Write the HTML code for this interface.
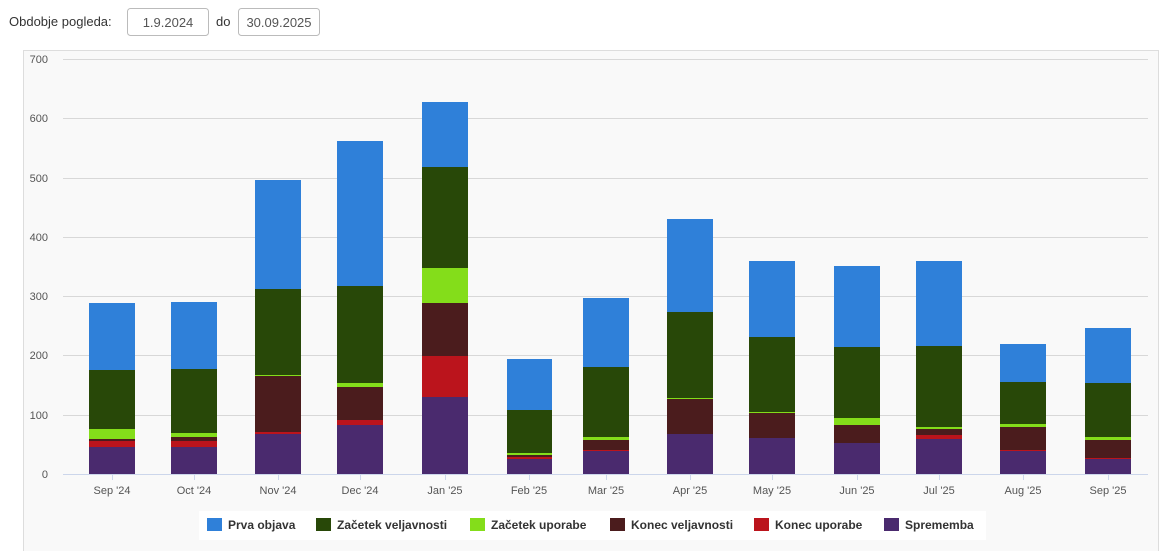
<!DOCTYPE html>
<html><head><meta charset="utf-8"><style>
html,body{margin:0;padding:0;background:#fff;width:1164px;height:551px;overflow:hidden;font-family:"Liberation Sans",sans-serif}
svg{position:absolute;left:0;top:0}
</style></head><body>
<svg width="1164" height="551" xmlns="http://www.w3.org/2000/svg" font-family="Liberation Sans, sans-serif">
<text x="9" y="26" font-size="13" fill="#333">Obdobje pogleda:</text>
<rect x="127.5" y="8.5" width="81" height="27" rx="3" fill="#fff" stroke="#bbb"/>
<text x="168" y="27" font-size="13" fill="#555" text-anchor="middle">1.9.2024</text>
<text x="216" y="26" font-size="13" fill="#333">do</text>
<rect x="238.5" y="8.5" width="81" height="27" rx="3" fill="#fff" stroke="#bbb"/>
<text x="279" y="27" font-size="13" fill="#555" text-anchor="middle">30.09.2025</text>
<rect x="23.5" y="50.5" width="1135" height="505" fill="#f9f9f9" stroke="#ddd"/>
<g stroke="#d8d8d8" stroke-width="1">
<line x1="63" x2="1148" y1="59.5" y2="59.5"/><line x1="63" x2="1148" y1="118.5" y2="118.5"/>
<line x1="63" x2="1148" y1="178.5" y2="178.5"/><line x1="63" x2="1148" y1="237.5" y2="237.5"/>
<line x1="63" x2="1148" y1="296.5" y2="296.5"/><line x1="63" x2="1148" y1="355.5" y2="355.5"/>
<line x1="63" x2="1148" y1="415.5" y2="415.5"/>
</g>
<g font-size="11" fill="#555" text-anchor="end">
<text x="48" y="63">700</text><text x="48" y="122">600</text><text x="48" y="182">500</text>
<text x="48" y="241">400</text><text x="48" y="300">300</text><text x="48" y="359">200</text>
<text x="48" y="419">100</text><text x="48" y="478">0</text>
</g>
<g id="bars">
<!-- Sep24 -->
<rect x="89" y="447" width="46" height="27" fill="#4a2a6e"/><rect x="89" y="441" width="46" height="6" fill="#bb141c"/><rect x="89" y="439" width="46" height="2" fill="#4b1c1d"/><rect x="89" y="429" width="46" height="10" fill="#84dd1a"/><rect x="89" y="370" width="46" height="59" fill="#284808"/><rect x="89" y="303" width="46" height="67" fill="#2f80d9"/>
<!-- Oct -->
<rect x="171" y="447" width="46" height="27" fill="#4a2a6e"/><rect x="171" y="441" width="46" height="6" fill="#bb141c"/><rect x="171" y="437" width="46" height="4" fill="#4b1c1d"/><rect x="171" y="433" width="46" height="4" fill="#84dd1a"/><rect x="171" y="369" width="46" height="64" fill="#284808"/><rect x="171" y="302" width="46" height="67" fill="#2f80d9"/>
<!-- Nov -->
<rect x="255" y="434" width="46" height="40" fill="#4a2a6e"/><rect x="255" y="432" width="46" height="2" fill="#bb141c"/><rect x="255" y="376" width="46" height="56" fill="#4b1c1d"/><rect x="255" y="375" width="46" height="1" fill="#84dd1a"/><rect x="255" y="289" width="46" height="86" fill="#284808"/><rect x="255" y="180" width="46" height="109" fill="#2f80d9"/>
<!-- Dec -->
<rect x="337" y="425" width="46" height="49" fill="#4a2a6e"/><rect x="337" y="420" width="46" height="5" fill="#bb141c"/><rect x="337" y="387" width="46" height="33" fill="#4b1c1d"/><rect x="337" y="383" width="46" height="4" fill="#84dd1a"/><rect x="337" y="286" width="46" height="97" fill="#284808"/><rect x="337" y="141" width="46" height="145" fill="#2f80d9"/>
<!-- Jan -->
<rect x="422" y="397" width="46" height="77" fill="#4a2a6e"/><rect x="422" y="356" width="46" height="41" fill="#bb141c"/><rect x="422" y="303" width="46" height="53" fill="#4b1c1d"/><rect x="422" y="268" width="46" height="35" fill="#84dd1a"/><rect x="422" y="167" width="46" height="101" fill="#284808"/><rect x="422" y="102" width="46" height="65" fill="#2f80d9"/>
<!-- Feb -->
<rect x="507" y="459" width="45" height="15" fill="#4a2a6e"/><rect x="507" y="457" width="45" height="2" fill="#bb141c"/><rect x="507" y="455" width="45" height="2" fill="#4b1c1d"/><rect x="507" y="453" width="45" height="2" fill="#84dd1a"/><rect x="507" y="410" width="45" height="43" fill="#284808"/><rect x="507" y="359" width="45" height="51" fill="#2f80d9"/>
<!-- Mar -->
<rect x="583" y="451" width="46" height="23" fill="#4a2a6e"/><rect x="583" y="450" width="46" height="1" fill="#bb141c"/><rect x="583" y="440" width="46" height="10" fill="#4b1c1d"/><rect x="583" y="437" width="46" height="3" fill="#84dd1a"/><rect x="583" y="367" width="46" height="70" fill="#284808"/><rect x="583" y="298" width="46" height="69" fill="#2f80d9"/>
<!-- Apr -->
<rect x="667" y="434" width="46" height="40" fill="#4a2a6e"/><rect x="667" y="399" width="46" height="35" fill="#4b1c1d"/><rect x="667" y="398" width="46" height="1" fill="#84dd1a"/><rect x="667" y="312" width="46" height="86" fill="#284808"/><rect x="667" y="219" width="46" height="93" fill="#2f80d9"/>
<!-- May -->
<rect x="749" y="438" width="46" height="36" fill="#4a2a6e"/><rect x="749" y="413" width="46" height="25" fill="#4b1c1d"/><rect x="749" y="412" width="46" height="1" fill="#84dd1a"/><rect x="749" y="337" width="46" height="75" fill="#284808"/><rect x="749" y="261" width="46" height="76" fill="#2f80d9"/>
<!-- Jun -->
<rect x="834" y="443" width="46" height="31" fill="#4a2a6e"/><rect x="834" y="425" width="46" height="18" fill="#4b1c1d"/><rect x="834" y="418" width="46" height="7" fill="#84dd1a"/><rect x="834" y="347" width="46" height="71" fill="#284808"/><rect x="834" y="266" width="46" height="81" fill="#2f80d9"/>
<!-- Jul -->
<rect x="916" y="439" width="46" height="35" fill="#4a2a6e"/><rect x="916" y="435" width="46" height="4" fill="#bb141c"/><rect x="916" y="429" width="46" height="6" fill="#4b1c1d"/><rect x="916" y="427" width="46" height="2" fill="#84dd1a"/><rect x="916" y="346" width="46" height="81" fill="#284808"/><rect x="916" y="261" width="46" height="85" fill="#2f80d9"/>
<!-- Aug -->
<rect x="1000" y="451" width="46" height="23" fill="#4a2a6e"/><rect x="1000" y="450" width="46" height="1" fill="#bb141c"/><rect x="1000" y="427" width="46" height="23" fill="#4b1c1d"/><rect x="1000" y="424" width="46" height="3" fill="#84dd1a"/><rect x="1000" y="382" width="46" height="42" fill="#284808"/><rect x="1000" y="344" width="46" height="38" fill="#2f80d9"/>
<!-- Sep25 -->
<rect x="1085" y="459" width="46" height="15" fill="#4a2a6e"/><rect x="1085" y="458" width="46" height="1" fill="#bb141c"/><rect x="1085" y="440" width="46" height="18" fill="#4b1c1d"/><rect x="1085" y="437" width="46" height="3" fill="#84dd1a"/><rect x="1085" y="383" width="46" height="54" fill="#284808"/><rect x="1085" y="328" width="46" height="55" fill="#2f80d9"/>
</g>
<line x1="63" x2="1148" y1="474.5" y2="474.5" stroke="#ccd6eb"/>
<g stroke="#ccd6eb">
<line x1="112.5" x2="112.5" y1="474" y2="480"/><line x1="194.5" x2="194.5" y1="474" y2="480"/><line x1="278.5" x2="278.5" y1="474" y2="480"/><line x1="360.5" x2="360.5" y1="474" y2="480"/><line x1="445.5" x2="445.5" y1="474" y2="480"/><line x1="529.5" x2="529.5" y1="474" y2="480"/><line x1="606.5" x2="606.5" y1="474" y2="480"/><line x1="690.5" x2="690.5" y1="474" y2="480"/><line x1="772.5" x2="772.5" y1="474" y2="480"/><line x1="857.5" x2="857.5" y1="474" y2="480"/><line x1="939.5" x2="939.5" y1="474" y2="480"/><line x1="1023.5" x2="1023.5" y1="474" y2="480"/><line x1="1108.5" x2="1108.5" y1="474" y2="480"/>
</g>
<g font-size="11" fill="#555" text-anchor="middle">
<text x="112" y="494">Sep '24</text><text x="194" y="494">Oct '24</text><text x="278" y="494">Nov '24</text><text x="360" y="494">Dec '24</text><text x="445" y="494">Jan '25</text><text x="529" y="494">Feb '25</text><text x="606" y="494">Mar '25</text><text x="690" y="494">Apr '25</text><text x="772" y="494">May '25</text><text x="857" y="494">Jun '25</text><text x="939" y="494">Jul '25</text><text x="1023" y="494">Aug '25</text><text x="1108" y="494">Sep '25</text>
</g>
<rect x="199" y="511" width="787" height="29" fill="#fff"/>
<g font-size="12" font-weight="bold" fill="#333">
<rect x="207" y="518" width="15" height="13" fill="#2f80d9"/><text x="228" y="529">Prva objava</text>
<rect x="316" y="518" width="15" height="13" fill="#284808"/><text x="337" y="529">Začetek veljavnosti</text>
<rect x="470" y="518" width="15" height="13" fill="#84dd1a"/><text x="491" y="529">Začetek uporabe</text>
<rect x="610" y="518" width="15" height="13" fill="#4b1c1d"/><text x="631" y="529">Konec veljavnosti</text>
<rect x="754" y="518" width="15" height="13" fill="#bb141c"/><text x="775" y="529">Konec uporabe</text>
<rect x="884" y="518" width="15" height="13" fill="#4a2a6e"/><text x="905" y="529">Sprememba</text>
</g>
</svg>
</body></html>
